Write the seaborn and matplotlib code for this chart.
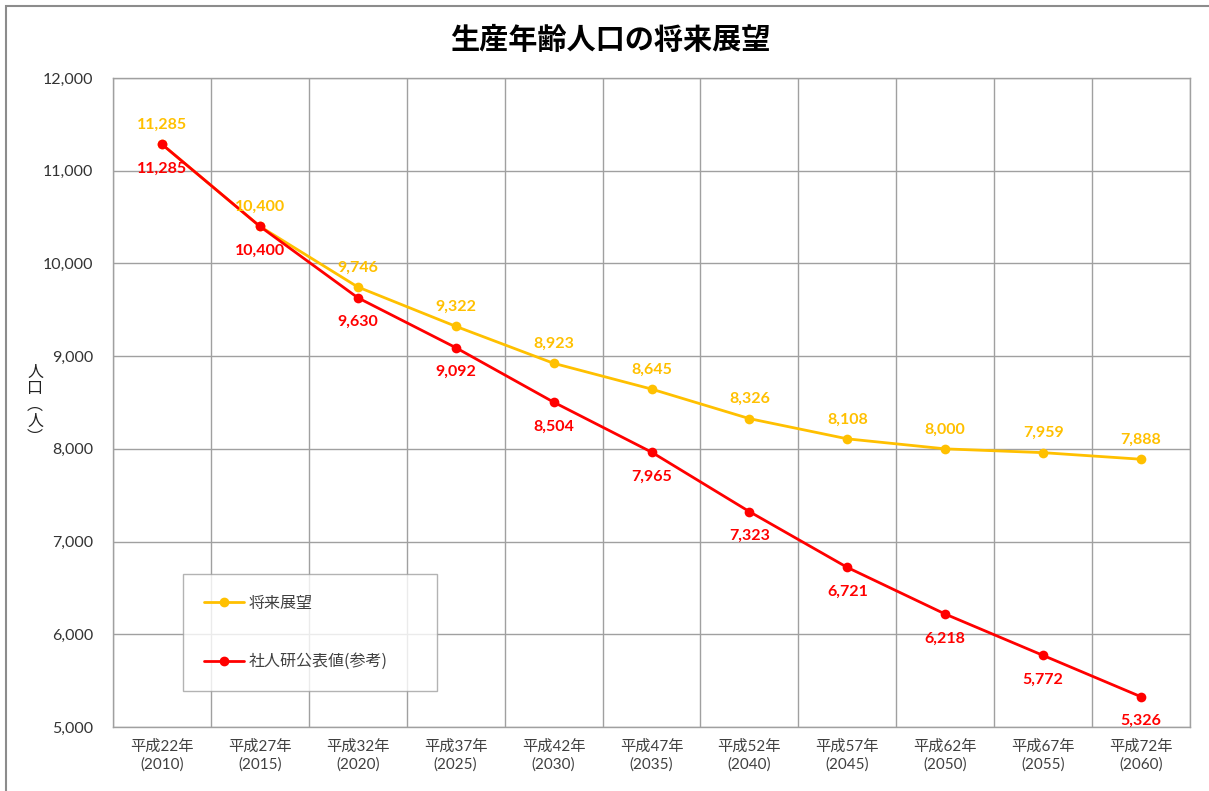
import matplotlib
matplotlib.use("Agg")
import matplotlib.pyplot as plt
import seaborn as sns
import pandas as pd
import numpy as np
from matplotlib.patches import Rectangle
from matplotlib.lines import Line2D

heisei = ["平成22年", "平成27年", "平成32年", "平成37年", "平成42年", "平成47年",
          "平成52年", "平成57年", "平成62年", "平成67年", "平成72年"]
years = ["2010", "2015", "2020", "2025", "2030", "2035", "2040", "2045", "2050", "2055", "2060"]
outlook = [11285, 10400, 9746, 9322, 8923, 8645, 8326, 8108, 8000, 7959, 7888]
ipss = [11285, 10400, 9630, 9092, 8504, 7965, 7323, 6721, 6218, 5772, 5326]
series_names = ["将来展望", "社人研公表値(参考)"]
yticks = [5000, 6000, 7000, 8000, 9000, 10000, 11000, 12000]

sns.set_theme(style="white")
plt.rcParams['font.family'] = ['Lato', 'Noto Sans CJK JP', 'DejaVu Sans']
CJK = ['Noto Sans CJK JP', 'DejaVu Sans']

YEL = "#FFC000"
RED = "#FF0000"
GRID = "#A0A0A0"

fig = plt.figure(figsize=(12.09, 7.91), dpi=100)
fig.patch.set_facecolor("white")
ax = fig.add_axes([113/1209, 1-727/791, (1190-113)/1209, (727-78)/791])

x = np.arange(len(heisei))
df = pd.DataFrame({
    "x": np.concatenate([x, x]),
    "v": outlook + ipss,
    "s": [series_names[0]] * len(x) + [series_names[1]] * len(x),
})
sns.lineplot(data=df, x="x", y="v", hue="s", palette=[YEL, RED], marker="o",
             markersize=7, markeredgewidth=0, linewidth=2, ax=ax, legend=False)

ax.set_xlim(-0.5, len(x) - 0.5)
ax.set_ylim(5000, 12000)
ax.set_yticks(yticks)
ax.set_yticklabels([f"{v:,}" for v in yticks], fontsize=11.5, color="#333333")
ax.set_xticks(x)
ax.set_xticklabels([f"{h}\n({y})" for h, y in zip(heisei, years)], fontsize=11, color="#404040",
                   linespacing=1.35)
ax.set_xticks(np.arange(-0.5, len(x), 1), minor=True)
ax.tick_params(axis="x", which="both", length=0, pad=9)
ax.tick_params(axis="y", length=0, pad=14)
ax.grid(False)
ax.grid(True, axis="x", which="minor", color=GRID, linewidth=1)
ax.grid(True, axis="y", which="major", color=GRID, linewidth=1)
for sp in ax.spines.values():
    sp.set_color(GRID)
    sp.set_linewidth(1)
ax.set_xlabel("")
ax.set_ylabel("")

for i, (a, b) in enumerate(zip(outlook, ipss)):
    ax.annotate(f"{a:,}", (i, a), xytext=(0, 9), textcoords="offset points",
                ha="center", va="bottom", color=YEL, fontsize=11.5, fontweight="bold")
    ax.annotate(f"{b:,}", (i, b), xytext=(0, -12.5), textcoords="offset points",
                ha="center", va="top", color=RED, fontsize=11.5, fontweight="bold")

fig.text(610/1209, 1-40/791, "生産年齢人口の将来展望", ha="center", va="center",
         fontsize=21, fontweight="bold", color="black", family=CJK)

fig.text(35/1209, 1-405/791, "人\n口\n︵\n人\n︶", ha="center", va="center",
         fontsize=11.5, color="#222222", linespacing=0.95, family=CJK)

# legend
handles = [Line2D([0], [0], color=YEL, lw=2, marker="o", markersize=6),
           Line2D([0], [0], color=RED, lw=2, marker="o", markersize=6)]
leg = fig.legend(handles, series_names, loc="upper left",
                 bbox_to_anchor=(183/1209, 1-574/791 - 0.01, (437-183)/1209, 0.01), mode="expand",
                 prop={"family": CJK, "size": 11.5},
                 frameon=True, fancybox=False, borderpad=1.3, labelspacing=2.6,
                 handlelength=2.5, handletextpad=0.3, borderaxespad=0)
leg.get_frame().set_edgecolor(GRID)
leg.get_frame().set_linewidth(1)
for t in leg.get_texts():
    t.set_color("#404040")

fig.patches.append(Rectangle((6/1209, -0.1), 1.5, 1 - 6/791 + 0.1, transform=fig.transFigure,
                             fill=False, edgecolor="#8C8C8C", linewidth=1.5))

fig.savefig("out.png", dpi=100)
